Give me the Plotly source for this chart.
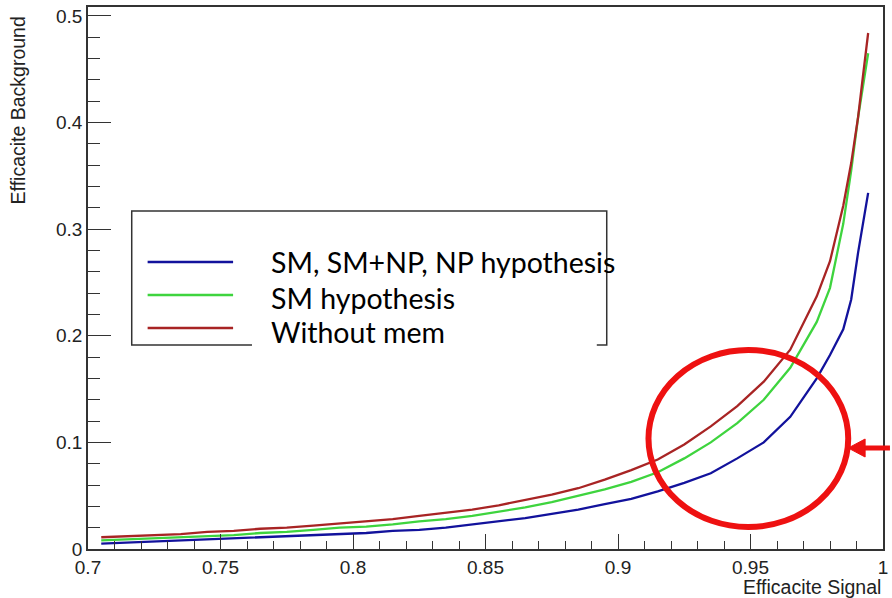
import plotly.graph_objects as go

# ---- data ----
eff_signal = [0.705, 0.715, 0.725, 0.735, 0.745, 0.755, 0.765, 0.775, 0.785, 0.795,
              0.805, 0.815, 0.825, 0.835, 0.845, 0.855, 0.865, 0.875, 0.885, 0.895,
              0.905, 0.915, 0.925, 0.935, 0.945, 0.955, 0.965, 0.975, 0.980, 0.985,
              0.988, 0.9906, 0.9925, 0.9944]
bkg_all = [0.005, 0.006, 0.007, 0.008, 0.009, 0.010, 0.011, 0.012, 0.013, 0.014,
           0.015, 0.017, 0.018, 0.020, 0.023, 0.026, 0.029, 0.033, 0.037, 0.042,
           0.047, 0.054, 0.062, 0.071, 0.085, 0.100, 0.124, 0.160, 0.182, 0.206,
           0.234, 0.278, 0.308, 0.334]
bkg_sm = [0.008, 0.009, 0.010, 0.011, 0.012, 0.013, 0.015, 0.016, 0.018, 0.020,
          0.021, 0.023, 0.026, 0.028, 0.031, 0.035, 0.039, 0.044, 0.050, 0.056,
          0.063, 0.072, 0.085, 0.100, 0.118, 0.140, 0.170, 0.213, 0.245, 0.305,
          0.355, 0.405, 0.435, 0.465]
bkg_nomem = [0.011, 0.012, 0.013, 0.014, 0.016, 0.017, 0.019, 0.020, 0.022, 0.024,
             0.026, 0.028, 0.031, 0.034, 0.037, 0.041, 0.046, 0.051, 0.057, 0.065,
             0.074, 0.084, 0.098, 0.115, 0.134, 0.157, 0.187, 0.237, 0.270, 0.322,
             0.362, 0.405, 0.445, 0.484]

series_names = ["SM, SM+NP, NP hypothesis", "SM hypothesis", "Without mem"]
series_colors = ["#12129c", "#3ed43e", "#a82424"]
series_values = [bkg_all, bkg_sm, bkg_nomem]

x_ticks = [0.7, 0.75, 0.8, 0.85, 0.9, 0.95, 1.0]
x_labels = ["0.7", "0.75", "0.8", "0.85", "0.9", "0.95", "1"]
y_ticks = [0, 0.1, 0.2, 0.3, 0.4, 0.5]
y_labels = ["0", "0.1", "0.2", "0.3", "0.4", "0.5"]

W, H = 892, 598
L, R, T, B = 88, 4, 7, 49
PW, PH = W - L - R, H - T - B


def px(xp):
    return (xp - L) / PW


def py(yp):
    return (H - B - yp) / PH


fig = go.Figure()
for name, col, vals in zip(series_names, series_colors, series_values):
    fig.add_trace(go.Scatter(x=eff_signal, y=vals, mode="lines", name=name,
                             line=dict(color=col, width=2.3), showlegend=False))

axis_font = dict(family="Liberation Sans, Arial, sans-serif", size=19, color="#222")

fig.update_layout(
    width=W, height=H,
    margin=dict(l=L, r=R, t=T, b=B, pad=0),
    paper_bgcolor="white", plot_bgcolor="white",
    xaxis=dict(range=[0.7, 1.0], tickvals=x_ticks, ticktext=x_labels,
               ticks="inside", ticklen=15, tickwidth=1.3, tickcolor="#333",
               minor=dict(dtick=0.01, ticks="inside", ticklen=8, tickwidth=1.3, tickcolor="#333"),
               showline=True, linecolor="#333", linewidth=1.5, mirror=True,
               showgrid=False, zeroline=False, tickfont=axis_font, ticklabelstandoff=0),
    yaxis=dict(range=[0, 0.5084], tickvals=y_ticks, ticktext=y_labels,
               ticks="inside", ticklen=23, tickwidth=1.3, tickcolor="#333",
               minor=dict(dtick=0.02, ticks="inside", ticklen=12, tickwidth=1.3, tickcolor="#333"),
               showline=True, linecolor="#333", linewidth=1.5, mirror=True,
               showgrid=False, zeroline=False, tickfont=axis_font),
)

title_font = dict(family="Liberation Sans, Arial, sans-serif", size=19.5, color="#222")
annotations = [
    dict(text="Efficacite Background", xref="paper", yref="paper", x=px(18), y=py(14),
         xanchor="center", yanchor="top", textangle=-90, showarrow=False, font=title_font),
    dict(text="Efficacite Signal", xref="paper", yref="paper", x=px(888), y=py(587),
         xanchor="right", yanchor="middle", showarrow=False, font=title_font),
]

legend_font = dict(family="Lato, Open Sans, sans-serif", size=28.5, color="black")
shapes = [
    # legend box
    dict(type="rect", xref="paper", yref="paper", x0=px(132), x1=px(610), y0=py(345), y1=py(211),
         line=dict(color="#333", width=1.5), fillcolor="white", layer="above"),
    # pasted text box covering part of the bottom border
    dict(type="rect", xref="paper", yref="paper", x0=px(253), x1=px(600), y0=py(352), y1=py(315),
         line=dict(width=0), fillcolor="white", layer="above"),
]
legend_y = [262, 295, 328]
text_y = [262, 298, 332]
for name, col, ly, ty in zip(series_names, series_colors, legend_y, text_y):
    shapes.append(dict(type="line", xref="paper", yref="paper", x0=px(148), x1=px(234),
                       y0=py(ly), y1=py(ly), line=dict(color=col, width=2.5), layer="above"))
    annotations.append(dict(text=name, xref="paper", yref="paper", x=px(270), y=py(ty),
                            xanchor="left", yanchor="middle", showarrow=False, font=legend_font))

# red highlight ellipse
shapes.append(dict(type="circle", xref="paper", yref="paper", x0=px(652), x1=px(853),
                   y0=py(527), y1=py(350), line=dict(color="#ee1111", width=6), layer="above"))
# red arrow
shapes.append(dict(type="line", xref="paper", yref="paper", x0=px(866), x1=px(895),
                   y0=py(448), y1=py(448), line=dict(color="#ee1111", width=5), layer="above"))
shapes.append(dict(type="path", xref="paper", yref="paper",
                   path=f"M {px(853)} {py(448)} L {px(870)} {py(439)} L {px(870)} {py(457)} Z",
                   fillcolor="#ee1111", line=dict(color="#ee1111", width=1), layer="above"))

fig.update_layout(shapes=shapes, annotations=annotations)
fig.write_html("out.html")
